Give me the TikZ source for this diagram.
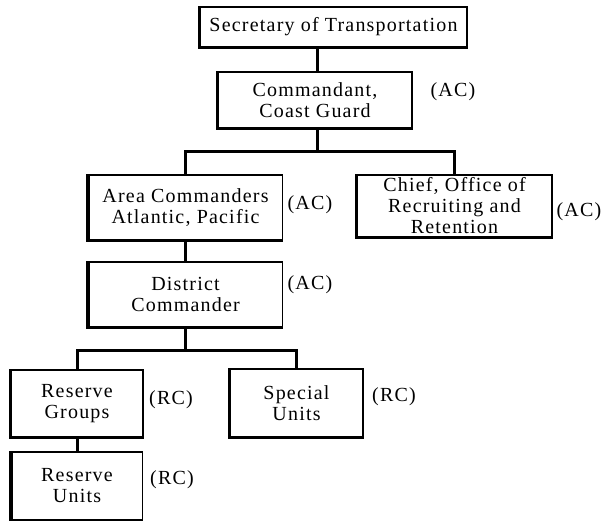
\documentclass[tikz,border=0pt]{standalone}
\usepackage{fontspec}
\setmainfont{Liberation Serif}[LetterSpace=6]
\usepackage{tikz}
\usetikzlibrary{calc}

\tikzset{
    unit/.style={draw, line width=1.3pt, align=center, inner sep=0pt,
        font=\fontsize{20}{21}\selectfont},
    rank/.style={inner sep=0pt, font=\fontsize{20}{21}\selectfont},
    link/.style={line width=3pt}
}

\begin{document}
\begin{tikzpicture}[x=1pt,y=-1pt]
        \useasboundingbox (0,0) rectangle (602,521);
        % boxes
        \node[unit, minimum width=267, minimum height=40] (sec) at (333.5,27) {Secretary of Transportation};
        \node[unit, minimum width=194, minimum height=56] (cmd) at (315,100) {Commandant,\\Coast Guard};
        \node[unit, minimum width=194, minimum height=65] (area) at (185.5,207.5) {Area Commanders\\Atlantic, Pacific};
        \node[unit, minimum width=195, minimum height=62] (chief) at (454.5,206) {Chief, Office of\\Recruiting and\\Retention};
        \node[unit, minimum width=194, minimum height=65] (dist) at (185.5,294.5) {District\\Commander};
        \node[unit, minimum width=132, minimum height=67] (rgrp) at (77,403.5) {Reserve\\Groups};
        \node[unit, minimum width=133, minimum height=68] (spec) at (296.5,403) {Special\\Units};
        \node[unit, minimum width=131, minimum height=68] (runit) at (77,486) {Reserve\\Units};
        % heavy left and bottom edges
        \foreach \n in {sec,cmd,area,chief,dist,rgrp,spec,runit}
        \draw[line width=3.5pt] (\n.north west) -- (\n.south west) -- (\n.south east);
        % component labels
        \node[rank] (acCmd) at (453,92) {(AC)};
        \node[rank] (acArea) at (310,205) {(AC)};
        \node[rank] (acChief) at (579,212) {(AC)};
        \node[rank] (acDist) at (310,285) {(AC)};
        \node[rank] (rcGrp) at (171,400) {(RC)};
        \node[rank] (rcSpec) at (394,397) {(RC)};
        \node[rank] (rcUnit) at (172,480) {(RC)};
        % connectors
        \coordinate (b1) at (317,152);
        \coordinate (b2) at (185.5,350);
        \draw[link] (cmd.north -| b1) -- (sec.south -| b1);
        \draw[link] (cmd.south -| b1) -- (b1);
        \draw[link] (area) |- (b1) -| (chief);
        \draw[link] (area) -- (dist);
        \draw[link] (dist) -- (b2);
        \draw[link] (rgrp) |- (b2) -| (spec);
        \draw[link] (rgrp) -- (runit);
    \end{tikzpicture}
\end{document}
